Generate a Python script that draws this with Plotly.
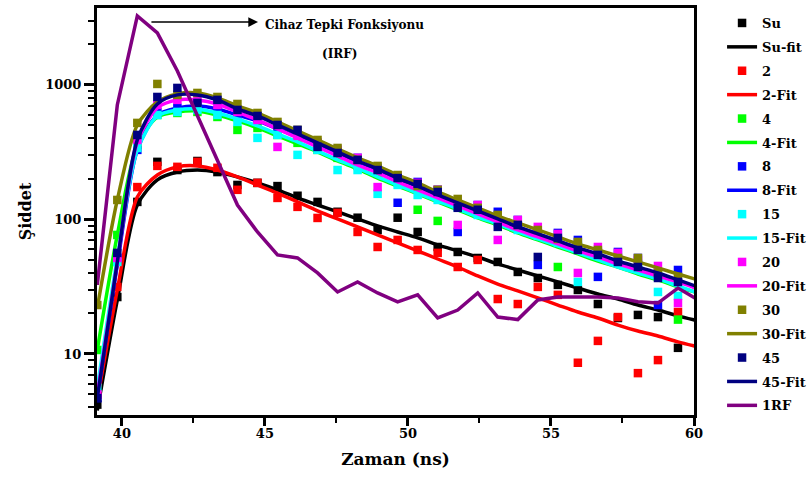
import plotly.graph_objects as go

# time axis (ns)
times = [39.14, 39.84, 40.54, 41.24, 41.94, 42.64, 43.34, 44.04, 44.74, 45.44,
         46.14, 46.84, 47.54, 48.24, 48.94, 49.64, 50.34, 51.04, 51.74, 52.44,
         53.14, 53.84, 54.54, 55.24, 55.94, 56.64, 57.34, 58.04, 58.74, 59.44, 60.14]

su = [4.2, 26.5, 135, 268, 233, 272, 225, 180.5, 187, 177, 150, 135, 114, 103, 83.5,
      103, 80.7, 62.4, 57.3, 51.7, 48.3, 40.7, 36.7, 32.6, 29.9, 23.5, 18.5, 19.5, 18.8, 11.1]
su_fit = [3.8, 25.2, 128, 197, 225, 233, 225, 207, 187, 166, 144.5, 128, 114, 101, 89.5,
          80.7, 72.9, 64.6, 58.3, 52.6, 46.7, 42.1, 38.0, 34.3, 30.9, 27.9, 25.6, 23.1, 21.2, 19.2, 17.6]

s2 = [5.0, 31.5, 174, 250, 246, 268, 242, 166, 187, 144.5, 124, 102.6, 112, 80.7, 62.4,
      70.4, 59.3, 56.4, 44.3, 50.0, 25.6, 23.5, 31.5, 27.5, 8.6, 12.5, 18.8, 7.2, 9.0, 20.5]
s2_fit = [4.55, 29.9, 147, 214, 246, 250, 233, 207, 180.5, 157, 135, 116, 100.8, 88.0, 76.7,
          66.9, 58.3, 50.8, 44.3, 38.0, 33.1, 29.4, 26.1, 23.1, 20.5, 18.5, 16.4, 14.8, 13.6, 12.3, 11.3]

s4 = [10.7, 76.7, 358, 598, 619, 630, 578, 463, 479, 425, 371, 329, 287, 250, 218,
      190, 118, 97.5, 128, 114, 99.1, 86.4, 78.0, 44.3, 63.5, 57.3, 51.7, 46.7, 40.7, 18.0]
s4_fit = [10.7, 76.7, 358, 578, 630, 641, 598, 540, 479, 418, 364, 318, 272, 238, 203,
          177, 155, 135, 118, 102.6, 91.0, 79.4, 70.4, 62.4, 55.4, 49.1, 44.3, 39.3, 35.5, 31.5, 28.4]

s8 = [4.7, 51.7, 329, 630, 675, 710, 652, 598, 549, 479, 425, 371, 329, 287, 242,
      133, 190, 166, 80.7, 128, 114, 99.1, 45.9, 79.4, 70.4, 37.4, 57.3, 51.7, 23.1, 42.1]
s8_fit = [4.7, 45.9, 329, 598, 675, 698, 663, 598, 540, 471, 410, 358, 307, 268, 233,
          200, 177, 152, 133, 116, 101, 88.0, 78.0, 69.2, 61.4, 54.5, 48.3, 43.6, 39.3, 34.9, 30.9]

s15 = [5.6, 48.3, 340, 598, 630, 652, 598, 531, 404, 425, 302, 329, 233, 233, 155,
       180.5, 152, 139.6, 124, 108, 95.8, 83.5, 75.4, 66.9, 34.3, 54.5, 48.3, 43.6, 28.9, 27.0]
s15_fit = [5.6, 51.7, 329, 588, 652, 663, 619, 559, 496, 432, 377, 323, 277, 242, 207,
           180.5, 157, 137, 120, 104, 92.6, 80.7, 71.6, 63.5, 56.4, 50.0, 44.3, 40.0, 36.1, 32.0, 28.4]

s20 = [5.0, 51.7, 390, 710, 774, 774, 710, 630, 549, 346, 418, 371, 329, 287, 174,
       211, 187, 166, 91.0, 128, 70.4, 99.1, 88.0, 78.0, 40.0, 62.4, 56.4, 50.0, 45.1, 23.9]
s20_fit = [5.0, 48.3, 377, 675, 774, 774, 722, 630, 549, 471, 404, 346, 297, 254, 222,
           190, 166, 144.5, 126, 110, 95.8, 83.5, 74.1, 65.7, 58.3, 52.6, 46.7, 42.1, 38.0, 34.3, 30.4]

s30 = [23.1, 139.6, 522, 1017, 843, 872, 814, 722, 619, 531, 463, 390, 340, 277, 250,
       214, 177, 166, 142, 122, 108, 91.0, 83.5, 71.6, 68.0, 59.3, 51.7, 51.7, 40.0, 37.4]
s30_fit = [22.0, 139.6, 504, 747, 857, 872, 801, 698, 619, 531, 455, 390, 334, 287, 250,
           214, 187, 160, 139.6, 122, 106, 94.2, 83.5, 74.1, 65.7, 59.3, 53.5, 48.3, 43.6, 39.3, 35.5]

s45 = [4.7, 56.4, 425, 814, 950, 735, 774, 652, 588, 504, 463, 346, 312, 277, 233,
       203, 184, 160, 122, 118, 88.0, 91.0, 52.6, 72.9, 59.3, 54.5, 48.3, 44.3, 36.7, 34.3]
s45_fit = [4.7, 48.3, 390, 722, 843, 843, 774, 663, 588, 504, 432, 371, 318, 272, 238,
           203, 177, 152, 133, 116, 101, 88.0, 78.0, 69.2, 61.4, 55.4, 49.1, 44.3, 40.0, 35.5, 31.5]

irf = [32.6, 710, 3260, 2440, 1270, 588, 272, 128, 80.7, 54.5, 51.7, 40.0, 28.9, 34.3, 28.4,
       24.4, 27.5, 18.5, 21.2, 28.4, 18.8, 18.0, 25.2, 26.5, 26.5, 26.5, 26.1, 24.4, 23.9, 30.9, 25.2]

series = [
    ("Su", su, "Su-fit", su_fit, "#000000"),
    ("2", s2, "2-Fit", s2_fit, "#FF0000"),
    ("4", s4, "4-Fit", s4_fit, "#00FF00"),
    ("8", s8, "8-Fit", s8_fit, "#0000FF"),
    ("15", s15, "15-Fit", s15_fit, "#00FFFF"),
    ("20", s20, "20-Fit", s20_fit, "#FF00FF"),
    ("30", s30, "30-Fit", s30_fit, "#808000"),
    ("45", s45, "45-Fit", s45_fit, "#000080"),
]

FONT = "DejaVu Serif"
fig = go.Figure()
for name, data, fname, fit, col in series:
    fig.add_trace(go.Scatter(x=times[:len(data)], y=data, mode="markers", name=name,
                             legendgroup=name,
                             marker=dict(symbol="square", size=8.5, color=col)))
    fig.add_trace(go.Scatter(x=times, y=fit, mode="lines", name=fname,
                             legendgroup=fname,
                             line=dict(color=col, width=3.5, shape="spline", smoothing=0.8)))
fig.add_trace(go.Scatter(x=times, y=irf, mode="lines", name="1RF", legendgroup="1RF",
                         line=dict(color="#800080", width=3.5)))

axis_common = dict(showline=True, linewidth=3, linecolor="black", mirror=True,
                   showgrid=False, zeroline=False, ticks="outside", tickcolor="black",
                   tickwidth=2.5,
                   tickfont=dict(family=FONT, size=13, color="black", weight="bold"))

fig.update_xaxes(range=[39.13, 60.0], tickvals=[40, 45, 50, 55, 60], ticklen=8,
                 ticklabelstandoff=-4,
                 minor=dict(tickvals=[42.5, 47.5, 52.5, 57.5], ticks="outside",
                            ticklen=5, tickwidth=2, tickcolor="black"),
                 title=dict(text="Zaman (ns)", standoff=14,
                            font=dict(family=FONT, size=17, color="black", weight="bold")),
                 **axis_common)
minor_y = [4, 5, 6, 7, 8, 9, 20, 30, 40, 50, 60, 70, 80, 90,
           200, 300, 400, 500, 600, 700, 800, 900, 2000, 3000]
fig.update_yaxes(type="log", range=[0.546, 3.572], tickvals=[10, 100, 1000],
                 ticktext=["10", "100", "1000"], ticklen=10,
                 minor=dict(tickvals=minor_y, ticks="outside", ticklen=6, tickwidth=2,
                            tickcolor="black"),
                 title=dict(text="Şiddet", standoff=10,
                            font=dict(family=FONT, size=16, color="black", weight="bold")),
                 **axis_common)

fig.add_annotation(x=44.76, y=0.9656, xref="x", yref="paper", ax=40.98, ay=0,
                   axref="x", ayref="pixel", text="", showarrow=True,
                   arrowhead=2, arrowsize=1.3, arrowwidth=1.5, arrowcolor="black")
fig.add_annotation(x=47.78, y=0.981, xref="x", yref="paper", showarrow=False,
                   text="Cihaz Tepki Fonksiyonu",
                   font=dict(family=FONT, size=12, color="black", weight="bold"))
fig.add_annotation(x=47.62, y=0.91, xref="x", yref="paper", showarrow=False,
                   text="(IRF)",
                   font=dict(family=FONT, size=12, color="black", weight="bold"))

fig.update_layout(
    width=810, height=479,
    margin=dict(l=97, r=116, t=8, b=64, autoexpand=False),
    plot_bgcolor="white", paper_bgcolor="white",
    legend=dict(x=1.047, y=1.0, xanchor="left", yanchor="top", traceorder="grouped",
                tracegroupgap=4, bgcolor="rgba(0,0,0,0)",
                font=dict(family=FONT, size=13, color="black", weight="bold")),
)

fig.write_html("out.html")
